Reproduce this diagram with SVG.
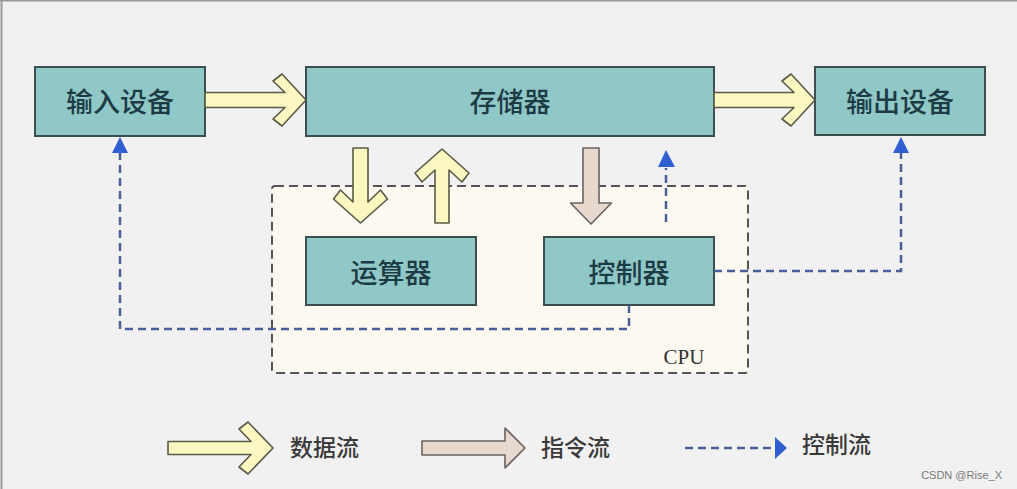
<svg xmlns="http://www.w3.org/2000/svg" width="1017" height="489" viewBox="0 0 1017 489">
<style>
.box{fill:#90c7c7;stroke:#3b4e50;stroke-width:2}
.lbl{font-family:"Noto Sans CJK SC",sans-serif;font-size:27px;fill:#1d3b45;text-anchor:middle;dominant-baseline:central;font-weight:500}
.leg{font-family:"Noto Sans CJK SC",sans-serif;font-size:23px;fill:#3a3a3a;dominant-baseline:central;font-weight:500}
.data{fill:#faf8c0;stroke:#5a5a48;stroke-width:1.6;stroke-linejoin:round}
.inst{fill:#e8d9cf;stroke:#6a6262;stroke-width:1.6;stroke-linejoin:round}
.ctl{fill:none;stroke:#4a5f98;stroke-width:2.5;stroke-dasharray:8 5}
.tri{fill:#2f5fd0}
</style>
<rect x="0" y="0" width="1017" height="489" fill="#f1f1f1"/>
<line x1="0" y1="0.8" x2="1017" y2="0.8" stroke="#9a9a9a" stroke-width="1.6"/>
<line x1="1.5" y1="0" x2="1.5" y2="489" stroke="#9a9a9a" stroke-width="2"/>

<g id="cpu">
<rect x="272" y="186" width="476" height="187" rx="3" fill="#fcfaf0" stroke="#555" stroke-width="2" stroke-dasharray="9 5"/>
<text x="684" y="364" font-family="Liberation Serif, serif" font-size="21" fill="#333" text-anchor="middle">CPU</text>
</g>

<g id="input"><rect class="box" x="35" y="67" width="170" height="69"/><text class="lbl" x="120" y="100">输入设备</text></g>
<g id="memory"><rect class="box" x="306" y="67" width="408" height="69"/><text class="lbl" x="510" y="100">存储器</text></g>
<g id="output"><rect class="box" x="815" y="67" width="170" height="68"/><text class="lbl" x="900" y="100">输出设备</text></g>
<g id="alu"><rect class="box" x="306" y="237" width="170" height="68"/><text class="lbl" x="391" y="271">运算器</text></g>
<g id="controller"><rect class="box" x="544" y="237" width="170" height="68"/><text class="lbl" x="629" y="271">控制器</text></g>

<g id="connectors">
<path class="data" transform="translate(306,100)" d="M0,0 L-24,-26 L-33,-19 L-21,-7.5 L-101,-7.5 L-101,7.5 L-21,7.5 L-33,19 L-24,26 Z"/>
<path class="data" transform="translate(815,100)" d="M0,0 L-24,-26 L-33,-19 L-21,-7.5 L-101,-7.5 L-101,7.5 L-21,7.5 L-33,19 L-24,26 Z"/>
<path class="data" transform="translate(360.5,223) rotate(90)" d="M0,0 L-24,-27 L-33,-20 L-21,-7.5 L-75,-7.5 L-75,7.5 L-21,7.5 L-33,20 L-24,27 Z"/>
<path class="data" transform="translate(442,149) rotate(-90)" d="M0,0 L-24,-27 L-33,-20 L-21,-7 L-74,-7 L-74,7 L-21,7 L-33,20 L-24,27 Z"/>
<path class="inst" transform="translate(591,224) rotate(90)" d="M0,0 L-21,-20.5 L-21,-8 L-76,-8 L-76,8 L-21,8 L-21,20.5 Z"/>

<path class="ctl" d="M666,222 V168"/>
<polygon class="tri" points="666,150 658,167 675,167"/>
<path class="ctl" d="M714,271 H901 V153"/>
<polygon class="tri" points="901,137 893,153 909,153"/>
<path class="ctl" d="M629,305 V329 H120 V153"/>
<polygon class="tri" points="120,137 112,153 128,153"/>
</g>

<g id="legend">
<path class="data" transform="translate(273,448)" d="M0,0 L-25,-26 L-34,-19 L-22,-6.5 L-105,-6.5 L-105,6.5 L-22,6.5 L-34,19 L-25,26 Z"/>
<text class="leg" x="290" y="446">数据流</text>
<path class="inst" transform="translate(525,448)" d="M0,0 L-20,-20 L-20,-7 L-103,-7 L-103,7 L-20,7 L-20,20 Z"/>
<text class="leg" x="541" y="446">指令流</text>
<path class="ctl" d="M685,448 H775"/>
<polygon class="tri" points="787,448 775,437 775,459"/>
<text class="leg" x="802" y="443">控制流</text>
</g>
<text x="1002" y="479" font-family="Liberation Sans, Arial, sans-serif" font-size="11" fill="#7a7a7a" text-anchor="end">CSDN @Rise_X</text>
</svg>
